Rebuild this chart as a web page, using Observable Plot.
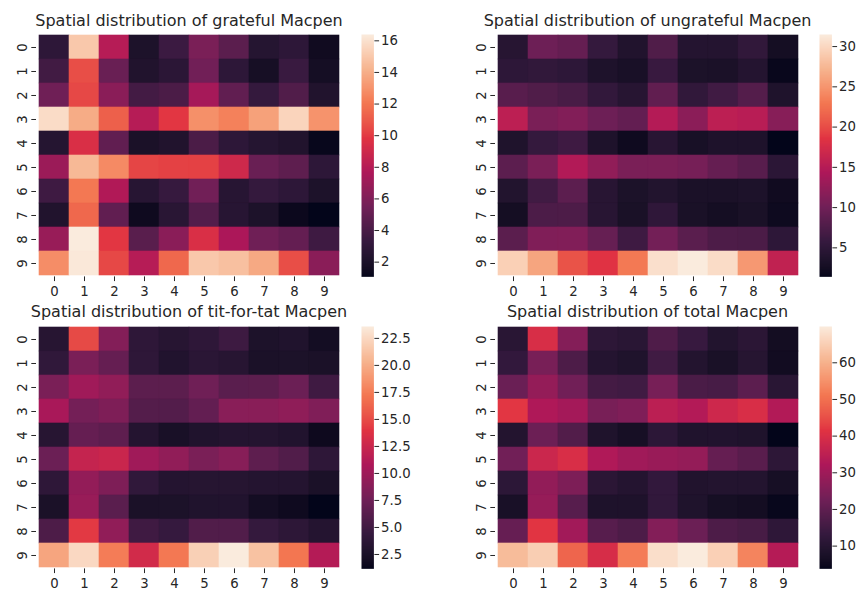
<!DOCTYPE html>
<html><head><meta charset="utf-8">
<script src="https://cdn.jsdelivr.net/npm/d3@7"></script>
<script src="https://cdn.jsdelivr.net/npm/@observablehq/plot@0.6"></script>
<style>
body{margin:0;background:#fff;}
#root{position:relative;width:860px;height:593px;overflow:hidden;font-family:"DejaVu Sans",sans-serif;color:#262626;}
.title{position:absolute;font-size:16px;line-height:16px;white-space:nowrap;transform:translateX(-50%);color:#262626;}
.abs{position:absolute;}
</style></head><body><div id="root"></div>
<script>
const rowLabels = [0,1,2,3,4,5,6,7,8,9];
const colLabels = [0,1,2,3,4,5,6,7,8,9];

const grateful = [
  [2.9, 15.0, 8.0, 2.1, 3.5, 5.8, 4.7, 2.5, 2.9, 1.5],
  [3.7, 10.6, 5.2, 2.3, 2.8, 5.5, 2.9, 1.8, 3.4, 1.7],
  [5.4, 10.4, 6.4, 3.8, 4.1, 7.4, 4.9, 3.2, 4.3, 2.3],
  [15.8, 13.9, 11.2, 8.0, 9.9, 12.9, 12.4, 13.5, 15.5, 13.0],
  [2.5, 9.5, 4.9, 2.0, 2.3, 4.1, 2.9, 2.5, 2.3, 1.2],
  [7.0, 14.4, 12.7, 10.3, 10.2, 10.2, 9.0, 5.2, 4.8, 2.9],
  [3.6, 12.1, 7.8, 2.6, 3.3, 5.5, 2.6, 3.2, 2.9, 2.1],
  [2.3, 11.5, 4.9, 1.4, 2.7, 4.4, 2.6, 2.1, 1.3, 1.07],
  [6.9, 16.4, 9.9, 4.6, 6.4, 9.5, 7.6, 5.4, 5.0, 3.6],
  [12.8, 16.3, 10.4, 8.0, 11.5, 15.0, 14.7, 13.8, 10.6, 6.4]
];
const ungrateful = [
  [4.4, 9.8, 9.2, 5.6, 3.8, 7.7, 4.1, 4.1, 5.3, 2.6],
  [5.0, 5.3, 5.0, 3.5, 3.0, 5.9, 3.3, 3.2, 4.1, 1.7],
  [8.3, 7.7, 7.1, 5.4, 4.4, 8.9, 5.3, 6.5, 8.0, 3.6],
  [15.5, 10.7, 11.3, 9.8, 9.1, 14.9, 11.9, 15.5, 15.2, 11.6],
  [3.6, 5.6, 6.4, 3.5, 2.1, 4.5, 2.9, 3.5, 3.5, 1.4],
  [8.6, 10.7, 14.7, 12.3, 10.7, 10.8, 10.4, 9.2, 8.3, 4.8],
  [3.9, 6.5, 8.6, 4.5, 3.3, 3.9, 3.2, 3.2, 3.4, 2.2],
  [2.6, 7.4, 7.5, 4.5, 3.1, 5.1, 3.1, 2.6, 3.1, 2.0],
  [8.5, 11.1, 11.2, 9.3, 6.4, 10.2, 8.4, 7.5, 7.3, 5.0],
  [29.4, 26.1, 20.4, 18.5, 23.1, 30.6, 31.5, 30.3, 25.2, 15.9]
];
const titForTat = [
  [3.4, 14.9, 8.6, 3.9, 3.4, 3.9, 4.8, 2.7, 2.9, 2.0],
  [4.0, 8.1, 7.0, 3.9, 3.0, 3.6, 3.4, 2.5, 2.6, 2.5],
  [8.1, 10.1, 9.3, 6.5, 6.5, 7.5, 6.4, 6.5, 7.3, 4.9],
  [10.6, 7.8, 8.3, 6.1, 6.0, 6.9, 8.9, 8.9, 9.2, 8.4],
  [3.4, 7.0, 6.6, 3.2, 2.4, 2.9, 3.2, 3.2, 3.0, 1.6],
  [7.3, 12.2, 12.5, 10.1, 9.3, 8.1, 8.8, 6.6, 5.9, 3.9],
  [3.9, 9.4, 8.3, 4.0, 3.2, 3.3, 3.3, 3.2, 3.2, 2.5],
  [2.5, 9.7, 6.4, 2.5, 2.6, 2.9, 3.0, 2.0, 1.7, 1.17],
  [5.7, 14.2, 9.3, 4.9, 4.4, 5.9, 5.9, 4.3, 3.8, 3.2],
  [19.6, 22.5, 17.5, 13.0, 17.3, 22.0, 23.6, 21.2, 17.2, 11.2]
];
const total = [
  [10.7, 39.7, 25.8, 11.6, 10.7, 17.4, 13.6, 9.3, 11.1, 6.1],
  [12.7, 24.0, 17.2, 9.7, 8.8, 15.0, 9.6, 7.5, 10.1, 5.9],
  [21.8, 28.2, 22.8, 15.7, 15.0, 23.8, 16.6, 16.2, 19.6, 10.8],
  [41.9, 32.4, 30.8, 23.9, 25.0, 34.7, 33.2, 37.9, 39.9, 33.0],
  [9.5, 22.1, 17.9, 8.7, 6.8, 11.5, 9.0, 9.2, 8.8, 3.8],
  [22.9, 37.3, 39.9, 32.7, 30.2, 29.1, 28.2, 21.0, 19.0, 11.6],
  [11.4, 28.0, 24.7, 11.1, 9.8, 12.7, 9.1, 9.6, 9.5, 6.8],
  [7.4, 28.6, 18.8, 8.4, 8.4, 12.4, 8.7, 6.7, 6.1, 4.4],
  [21.1, 41.7, 30.4, 18.8, 17.2, 25.6, 21.9, 17.2, 16.1, 11.8],
  [61.8, 64.9, 48.3, 39.5, 51.9, 67.6, 69.9, 65.3, 53.0, 33.5]
];

const titles = [
  "Spatial distribution of grateful Macpen",
  "Spatial distribution of ungrateful Macpen",
  "Spatial distribution of tit-for-tat Macpen",
  "Spatial distribution of total Macpen"
];
const gratefulTicks = [2, 4, 6, 8, 10, 12, 14, 16];
const ungratefulTicks = [5, 10, 15, 20, 25, 30];
const titForTatTicks = [2.5, 5.0, 7.5, 10.0, 12.5, 15.0, 17.5, 20.0, 22.5];
const totalTicks = [10, 20, 30, 40, 50, 60];

// seaborn "rocket" colormap anchor colours
const rocket = ["#03051a", "#35193e", "#701f57", "#ad1759", "#e13342", "#f37651", "#f6b48f", "#faebdd"];

const panels = [
  {title: titles[0], values: grateful, ticks: gratefulTicks, fmt: d3.format("d"), hx: 36, hy: 34.4, cbx: 360.8},
  {title: titles[1], values: ungrateful, ticks: ungratefulTicks, fmt: d3.format("d"), hx: 494.5, hy: 34.4, cbx: 819},
  {title: titles[2], values: titForTat, ticks: titForTatTicks, fmt: d3.format(".1f"), hx: 36, hy: 326, cbx: 360.8},
  {title: titles[3], values: total, ticks: totalTicks, fmt: d3.format("d"), hx: 494.5, hy: 326, cbx: 819}
];

const HW = 306, HH = 242.4, CBW = 12.4;
const root = document.getElementById("root");
const txt = "#262626";
const baseStyle = {fontSize: "13.3px", fontFamily: "DejaVu Sans", color: txt, background: "transparent", overflow: "visible"};

for (const p of panels) {
  const cells = [];
  p.values.forEach((row, r) => row.forEach((v, c) => cells.push({row: rowLabels[r], col: colLabels[c], value: v})));
  const [lo, hi] = d3.extent(cells, d => d.value);
  const color = {type: "linear", domain: rocket.map((_, i) => lo + i / (rocket.length - 1) * (hi - lo)), range: rocket, interpolate: "lab"};

  const heat = Plot.plot({
    width: 36 + HW, height: HH + 30,
    marginLeft: 36, marginRight: 0, marginTop: 0, marginBottom: 30,
    style: baseStyle,
    x: {type: "band", domain: colLabels, padding: 0, label: null, tickSize: 4.7, tickPadding: 4.7},
    y: {type: "band", domain: rowLabels, padding: 0, label: null, tickSize: 4.7, tickPadding: 4.7, tickRotate: -90},
    color,
    marks: [
      Plot.cell(cells, {x: "col", y: "row", fill: "value", stroke: "value", strokeWidth: 0.6})
    ]
  });
  heat.classList.add("abs");
  heat.style.left = (p.hx - 36) + "px";
  heat.style.top = p.hy + "px";
  root.appendChild(heat);

  const cb = Plot.plot({
    width: CBW + 40, height: HH,
    marginLeft: 0, marginRight: 40, marginTop: 0, marginBottom: 0,
    style: baseStyle,
    x: {domain: [0, 1], axis: null},
    y: {domain: [lo, hi], axis: "right", ticks: p.ticks, tickFormat: p.fmt, label: null, tickSize: 4.7, tickPadding: 2.5},
    color,
    marks: [
      Plot.raster({x1: 0, x2: 1, y1: lo, y2: hi, width: 1, height: 400, fill: (x, y) => y})
    ]
  });
  cb.classList.add("abs");
  cb.style.left = p.cbx + "px";
  cb.style.top = p.hy + "px";
  root.appendChild(cb);

  const t = document.createElement("div");
  t.className = "title";
  t.textContent = p.title;
  t.style.left = (p.hx + HW / 2) + "px";
  t.style.top = (p.hy - 21.8) + "px";
  root.appendChild(t);
}
</script></body></html>
